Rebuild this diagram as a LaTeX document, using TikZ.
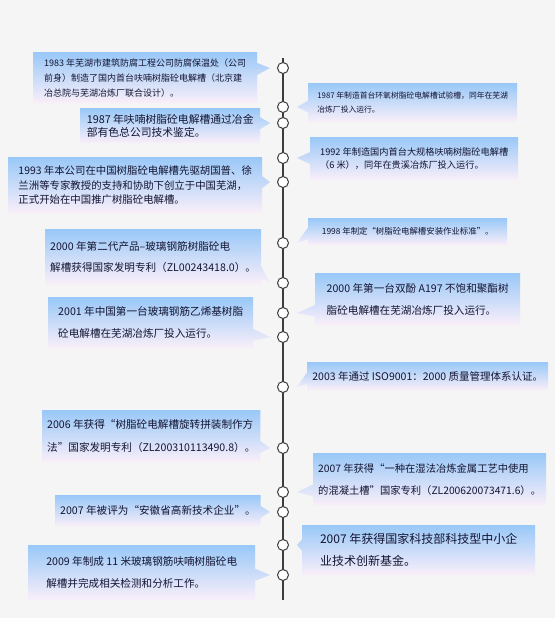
\documentclass[tikz,border=0pt]{standalone}
\usepackage{fontspec}
\setmainfont{Noto Sans CJK SC}
\usetikzlibrary{shapes.callouts,positioning}
\definecolor{TimeBg}{HTML}{F5F5F5}
\definecolor{TimeTop}{HTML}{99C8F8}
\definecolor{TimeBot}{HTML}{FAEFF9}
\definecolor{TimeInk}{HTML}{141432}
\definecolor{TimeAxis}{HTML}{3C3C3C}
\tikzset{
  spine/.style={line width=1.2pt, draw=TimeAxis},
  dot/.style={circle, draw=TimeAxis, fill=white, line width=1pt, minimum size=11pt, inner sep=0pt},
  evt/.style={rectangle callout, top color=TimeTop, bottom color=TimeBot, draw=none, text=TimeInk,
              align=left, anchor=north west, inner xsep=5pt, inner ysep=3pt, callout pointer width=12pt},
  evttiny/.style={evt, font=\fontsize{7.8}{14}\selectfont},
  evtsmall/.style={evt, font=\fontsize{9}{15}\selectfont},
  evtmid/.style={evt, font=\fontsize{10.5}{14}\selectfont},
  evtbig/.style={evt, font=\fontsize{10.6}{22.5}\selectfont},
  toleft/.style={callout absolute pointer={([xshift=-13pt]#1)}},
  toright/.style={callout absolute pointer={([xshift=14pt]#1)}},
}
\begin{document}
\begin{tikzpicture}[x=1pt,y=-1pt]
  \fill[TimeBg] (0,0) rectangle (555,618);
  \useasboundingbox (0,0) rectangle (555,618);
  % time axis
  \coordinate (top) at (283,58);
  \coordinate (bot) at (283,600);
  \draw[spine] (top) -- (bot);
  \foreach \y [count=\i] in {68,107,123,158,182,243,283,313,337,387,448,492,512,545,575}
    \node[dot] (c\i) at (283,\y) {};
  % events
  \node[evtsmall, toleft=c1, minimum width=224pt, minimum height=51pt] (e1) at (33,52)
    {1983 年芜湖市建筑防腐工程公司防腐保温处（公司\\前身）制造了国内首台呋喃树脂砼电解槽（北京建\\冶总院与芜湖冶炼厂联合设计）。};
  \node[evttiny, toright=c2, minimum width=209pt, minimum height=39pt] (e2) at (308,83)
    {1987 年制造首台环氧树脂砼电解槽试验槽，同年在芜湖\\冶炼厂投入运行。};
  \node[evt, font=\fontsize{10.8}{13.5}\selectfont, toleft=c3, minimum width=180pt, minimum height=35pt] (e3) at (80,108)
    {1987 年呋喃树脂砼电解槽通过冶金\\部有色总公司技术鉴定。};
  \node[evt, font=\fontsize{9.2}{13}\selectfont, toright=c4, minimum width=208pt, minimum height=43pt] (e4) at (310,137)
    {1992 年制造国内首台大规格呋喃树脂砼电解槽\\（6 米），同年在贵溪冶炼厂投入运行。};
  \node[evt, font=\fontsize{10.4}{14.5}\selectfont, toleft=c5, minimum width=254pt, minimum height=56pt] (e5) at (8,157)
    {1993 年本公司在中国树脂砼电解槽先驱胡国普、徐\\兰洲等专家教授的支持和协助下创立于中国芜湖，\\正式开始在中国推广树脂砼电解槽。};
  \node[evt, font=\fontsize{8.4}{12}\selectfont, toright=c6, minimum width=199pt, minimum height=27pt] (e6) at (308,218)
    {1998 年制定“树脂砼电解槽安装作业标准”。};
  \node[evt, font=\fontsize{10.6}{21}\selectfont, toleft=c7, minimum width=215pt, minimum height=55pt] (e7) at (45,229)
    {2000 年第二代产品–玻璃钢筋树脂砼电\\解槽获得国家发明专利（ZL00243418.0）。};
  \node[evt, font=\fontsize{10.6}{22}\selectfont, toright=c8, minimum width=205pt, minimum height=52pt] (e8) at (315,273)
    {2000 年第一台双酚 A197 不饱和聚酯树\\脂砼电解槽在芜湖冶炼厂投入运行。};
  \node[evtbig, toleft=c9, minimum width=205pt, minimum height=51pt] (e9) at (48,297)
    {2001 年中国第一台玻璃钢筋乙烯基树脂\\砼电解槽在芜湖冶炼厂投入运行。};
  \node[evt, font=\fontsize{10.5}{14}\selectfont, toright=c10, minimum width=241pt, minimum height=28pt] (e10) at (307,362)
    {2003 年通过 ISO9001：2000 质量管理体系认证。};
  \node[evtbig, toleft=c11, minimum width=218pt, minimum height=52pt] (e11) at (42,410)
    {2006 年获得“树脂砼电解槽旋转拼装制作方\\法”国家发明专利（ZL200310113490.8）。};
  \node[evt, font=\fontsize{10.3}{22}\selectfont, toright=c12, minimum width=230pt, minimum height=52pt] (e12) at (313,453)
    {2007 年获得“一种在湿法冶炼金属工艺中使用\\的混凝土槽”国家专利（ZL200620073471.6）。};
  \node[evtbig, toleft=c13, minimum width=200pt, minimum height=31pt] (e13) at (55,495)
    {2007 年被评为“安徽省高新技术企业”。};
  \node[evt, font=\fontsize{12}{22}\selectfont, toright=c14, minimum width=233pt, minimum height=50pt] (e14) at (302,525)
    {2007 年获得国家科技部科技型中小企\\业技术创新基金。};
  \node[evtbig, toleft=c15, minimum width=227pt, minimum height=55pt] (e15) at (28,545)
    {2009 年制成 11 米玻璃钢筋呋喃树脂砼电\\解槽并完成相关检测和分析工作。};
\end{tikzpicture}
\end{document}
